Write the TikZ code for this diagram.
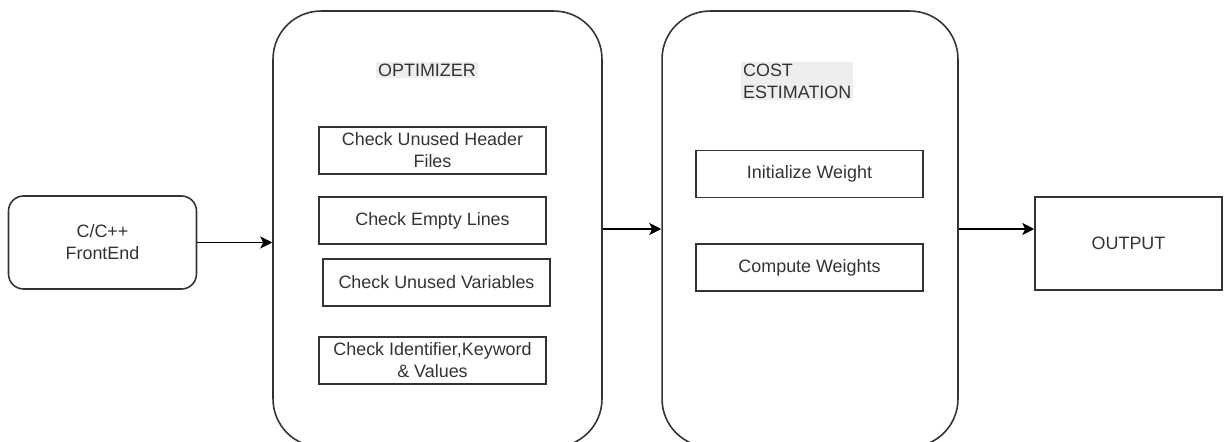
\documentclass[tikz,border=0pt]{standalone}
\usepackage{fontspec}
\setmainfont{Liberation Sans}
\usetikzlibrary{arrows.meta, positioning}
\definecolor{ink}{HTML}{333333}
\definecolor{hilite}{HTML}{EEEEEE}

\begin{document}
\begin{tikzpicture}[
    x=0.02cm, y=-0.02cm,
    >={Stealth[length=2.4mm, width=2.4mm, inset=0.6mm]},
    font=\fontsize{10.2}{12.5}\selectfont, text=ink,
    stage/.style={draw=ink, line width=0.9pt, rounded corners=0.96cm,
                  minimum height=8.72cm, inner sep=0pt},
    check/.style={draw=ink, line width=0.9pt, minimum width=4.54cm,
                  minimum height=0.94cm, align=center, inner sep=0pt},
    endbox/.style={draw=ink, line width=0.9pt, minimum width=3.76cm,
                   minimum height=1.86cm, align=center},
    flow/.style={->, draw=black, line width=0.9pt}
  ]
  \useasboundingbox (0,0) rectangle (1226,442);
  \clip (0,0) rectangle (1226,442);

  % Input and output
  \node[endbox, rounded corners=0.3cm] (fe) at (102.5,242.5) {C/C++\\FrontEnd};
  \node[endbox, minimum width=3.74cm] (out) at (1128.5,243.5) {OUTPUT};

  % The two stages
  \node[stage, minimum width=6.58cm] (opt) at (437.5,229) {};
  \node[stage, minimum width=5.92cm] (cost) at (810,229) {};

  \node[fill=hilite, inner sep=1pt] (optlbl) at (427,70) {OPTIMIZER};
  \node[fill=hilite, inner sep=1pt, anchor=west, align=left] (costlbl)
    at (741,81) {COST\\ESTIMATION};

  % Optimizer steps
  \foreach \n/\x/\y/\t in {
    1/432.5/150.5/{Check Unused Header\\Files},
    2/432.5/220.5/{Check Empty Lines},
    3/436.5/282.5/{Check Unused Variables},
    4/432.5/360.5/{Check Identifier,Keyword\\\& Values}} {
    \node[check] (o\n) at (\x,\y) {\t};
  }

  % Cost estimation steps
  \node[check] (w1) at (809.5,174) {Initialize Weight};
  \node[check] (w2) at (809.5,267.5) {Compute Weights};

  % Connectors
  \draw[flow] (fe.east) -- (fe.east -| opt.west);
  \draw[flow] (opt.east) -- (cost.west);
  \draw[flow] (cost.east) -- (cost.east -| out.west);
\end{tikzpicture}
\end{document}
